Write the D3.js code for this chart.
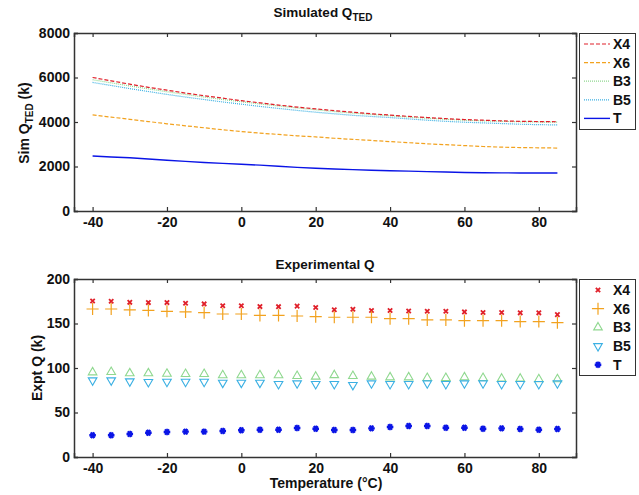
<!DOCTYPE html>
<html>
<head>
<meta charset="utf-8">
<script src="https://cdn.jsdelivr.net/npm/d3@7"></script>
<style>
body { margin: 0; background: #fff; }
svg text { font-family: "Liberation Sans", Arial, sans-serif; font-weight: bold; fill: #111; }
</style>
</head>
<body>
<div id="chart"></div>
<script>
var temps = d3.range(-40, 90, 5);

// simulated Q_TED (k)
var simX4 = [6000, 5850, 5700, 5560, 5430, 5300, 5180, 5070, 4960, 4860, 4760, 4670, 4590,
    4510, 4440, 4370, 4310, 4250, 4200, 4150, 4110, 4080, 4050, 4030, 4020, 4010];
var simX6 = [4320, 4220, 4120, 4020, 3920, 3830, 3740, 3650, 3570, 3500, 3440, 3380, 3330,
    3270, 3220, 3170, 3120, 3070, 3020, 2980, 2940, 2900, 2870, 2850, 2840, 2830];
var simB3 = [5900, 5760, 5620, 5490, 5360, 5240, 5120, 5010, 4910, 4810, 4720, 4630, 4550,
    4470, 4400, 4340, 4280, 4220, 4170, 4120, 4080, 4050, 4030, 4010, 4000, 3990];
var simB5 = [5780, 5640, 5500, 5370, 5240, 5120, 5010, 4900, 4800, 4700, 4610, 4520, 4440,
    4370, 4300, 4250, 4200, 4140, 4080, 4030, 3990, 3960, 3930, 3900, 3880, 3870];
var simT = [2470, 2430, 2390, 2340, 2280, 2230, 2180, 2140, 2100, 2060, 2010, 1960, 1920,
    1890, 1860, 1830, 1810, 1790, 1770, 1750, 1730, 1720, 1715, 1710, 1710, 1710];

// experimental Q (k)
var expX4 = [175.3, 175, 173.8, 173.5, 173.5, 172.8, 172, 170, 170, 169, 168.9, 169.5, 168,
    165.5, 166, 164.6, 164.6, 164, 163.7, 163.7, 163, 162.4, 162.4, 162, 162, 160];
var expX6 = [166.3, 166.3, 165.2, 164.8, 163.7, 163, 162.2, 160.7, 160.7, 159.2, 159.2, 158.4, 157.7,
    157, 157, 157, 155.5, 155.5, 154, 154, 153.3, 153.3, 153.3, 152.2, 152.2, 151];
var expB3 = [95.1, 95.5, 94, 94, 93.6, 93.3, 93.3, 91.8, 91.8, 91.8, 91.8, 91, 90.3,
    92, 91, 90.3, 89.5, 89.5, 88.8, 88.8, 89.5, 88.8, 88, 88, 87.3, 87.3];
var expB5 = [86.1, 86.1, 85, 84.3, 84.6, 84.6, 84.6, 83.5, 83.5, 83.5, 82, 82.8, 82,
    82, 81, 82.8, 82, 82, 82.8, 82, 82.8, 82.8, 82, 82, 82, 82.8];
var expT = [24.4, 24.4, 25.8, 27.3, 28.1, 28.5, 28.5, 29.2, 30, 30.7, 30.7, 32.6, 31.8,
    30.3, 30.3, 32.2, 33.7, 34.8, 34.8, 32.9, 32.9, 31.8, 32.2, 31.5, 30.7, 31.5];

var names = ["X4", "X6", "B3", "B5", "T"];
var colors = ["#e0202a", "#f2a21f", "#8fd88f", "#3bb0e3", "#0a14e6"];
var dashes = ["4,2", "4,2", "1,1", "1,1", null];
var xTicks = [-40, -20, 0, 20, 40, 60, 80];

var width = 639, height = 495;
var svg = d3.select("#chart").append("svg")
    .attr("width", width)
    .attr("height", height);

var x = d3.scaleLinear().domain([-45, 90]).range([74, 576]);
var plain = function (d) { return String(d); };

function frame(y, yTicks, top, bottom) {
    var g = svg.append("g");
    g.append("rect")
        .attr("x", 74).attr("y", top)
        .attr("width", 502).attr("height", bottom - top)
        .attr("fill", "#fff");

    var ax = [
        g.append("g").attr("transform", "translate(0," + bottom + ")")
            .call(d3.axisBottom(x).tickValues(xTicks).tickSize(-4).tickPadding(6).tickFormat(plain)),
        g.append("g").attr("transform", "translate(0," + top + ")")
            .call(d3.axisTop(x).tickValues(xTicks).tickSize(-4).tickFormat("")),
        g.append("g").attr("transform", "translate(74,0)")
            .call(d3.axisLeft(y).tickValues(yTicks).tickSize(-4).tickPadding(4).tickFormat(plain)),
        g.append("g").attr("transform", "translate(576,0)")
            .call(d3.axisRight(y).tickValues(yTicks).tickSize(-4).tickFormat(""))
    ];
    ax.forEach(function (a) {
        a.select(".domain").attr("stroke", "#333").attr("stroke-width", 1.5);
        a.selectAll(".tick line").attr("stroke", "#333").attr("stroke-width", 1.2);
        a.selectAll(".tick text")
            .attr("font-size", 14)
            .attr("font-family", "Liberation Sans, Arial, sans-serif")
            .attr("font-weight", "bold")
            .attr("fill", "#111");
    });
    return g;
}

// ---- top panel: simulated
var y1 = d3.scaleLinear().domain([0, 8000]).range([211, 33]);
frame(y1, [0, 2000, 4000, 6000, 8000], 33, 211);

var simSeries = [simX4, simX6, simB3, simB5, simT];
var line = d3.line()
    .x(function (d, i) { return x(temps[i]); })
    .y(function (d) { return y1(d); });

// draw bottom series first so X4 sits on top
[4, 1, 3, 2, 0].forEach(function (k) {
    svg.append("path")
        .attr("d", line(simSeries[k]))
        .attr("fill", "none")
        .attr("stroke", colors[k])
        .attr("stroke-width", k == 4 ? 1.4 : 1.2)
        .attr("stroke-dasharray", dashes[k]);
});

var t1 = svg.append("text")
    .attr("x", 323).attr("y", 17)
    .attr("text-anchor", "middle")
    .attr("font-size", 13.5);
t1.append("tspan").text("Simulated Q");
t1.append("tspan").attr("font-size", 10).attr("dy", 4).text("TED");

var yl1 = svg.append("text")
    .attr("transform", "translate(29,123) rotate(-90)")
    .attr("text-anchor", "middle")
    .attr("font-size", 14);
yl1.append("tspan").text("Sim Q");
yl1.append("tspan").attr("font-size", 10).attr("dy", 4).text("TED");
yl1.append("tspan").attr("dy", -4).text(" (k)");

// legend top
var leg1 = svg.append("g");
leg1.append("rect")
    .attr("x", 579.5).attr("y", 33.5).attr("width", 56).attr("height", 96)
    .attr("fill", "#fff").attr("stroke", "#333").attr("stroke-width", 1);
names.forEach(function (n, k) {
    var yy = 44 + k * 18.6;
    leg1.append("line")
        .attr("x1", 584).attr("x2", 610).attr("y1", yy).attr("y2", yy)
        .attr("stroke", colors[k])
        .attr("stroke-width", k == 4 ? 1.4 : 1.2)
        .attr("stroke-dasharray", dashes[k]);
    leg1.append("text")
        .attr("x", 613).attr("y", yy + 5)
        .attr("font-size", 14).text(n);
});

// ---- bottom panel: experimental
var y2 = d3.scaleLinear().domain([0, 200]).range([457, 279]);
frame(y2, [0, 50, 100, 150, 200], 279, 457);

var expSeries = [expX4, expX6, expB3, expB5, expT];

function marker(k) {
    if (k == 0) return d3.symbol(d3.symbolTimes, 14)();
    if (k == 1) return d3.symbol(d3.symbolPlus, 50)();
    if (k == 2) return d3.symbol(d3.symbolTriangle, 32)();
    if (k == 3) return d3.symbol(d3.symbolTriangle, 32)();
    return d3.symbol(d3.symbolAsterisk, 30)();
}

function drawMarker(g, k, px, py) {
    var p = g.append("path")
        .attr("d", marker(k))
        .attr("transform", "translate(" + px + "," + py + ")" + (k == 3 ? " rotate(180)" : "") + (k == 4 ? " rotate(90)" : ""));
    if (k == 4) {
        p.attr("fill", "none").attr("stroke", colors[k]).attr("stroke-width", 2.4);
    } else if (k >= 2) {
        p.attr("fill", "none").attr("stroke", colors[k]).attr("stroke-width", 1.1);
    } else {
        p.attr("fill", "none").attr("stroke", colors[k]).attr("stroke-width", k == 0 ? 1.8 : 1.2);
    }
}

var pts = svg.append("g");
expSeries.forEach(function (s, k) {
    s.forEach(function (v, i) {
        drawMarker(pts, k, x(temps[i]), y2(v));
    });
});

svg.append("text")
    .attr("x", 325).attr("y", 269)
    .attr("text-anchor", "middle")
    .attr("font-size", 13.5)
    .text("Experimental Q");

svg.append("text")
    .attr("transform", "translate(42,368) rotate(-90)")
    .attr("text-anchor", "middle")
    .attr("font-size", 14)
    .text("Expt Q (k)");

svg.append("text")
    .attr("x", 326).attr("y", 488)
    .attr("text-anchor", "middle")
    .attr("font-size", 14)
    .text("Temperature (\u00B0C)");

// legend bottom
var leg2 = svg.append("g");
leg2.append("rect")
    .attr("x", 579.5).attr("y", 279.5).attr("width", 56).attr("height", 96)
    .attr("fill", "#fff").attr("stroke", "#333").attr("stroke-width", 1);
names.forEach(function (n, k) {
    var yy = 290 + k * 18.7;
    drawMarker(leg2, k, 598, yy);
    leg2.append("text")
        .attr("x", 613).attr("y", yy + 5)
        .attr("font-size", 14).text(n);
});
</script>
</body>
</html>
